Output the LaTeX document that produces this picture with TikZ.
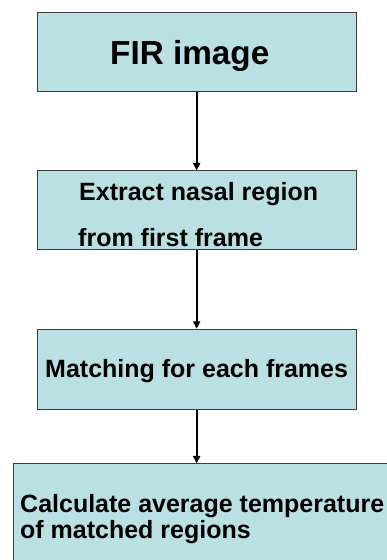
\documentclass[tikz,border=0pt]{standalone}
\usepackage{fontspec}
\setmainfont{Liberation Sans}
\usetikzlibrary{arrows.meta}
\definecolor{boxfill}{RGB}{187,224,227}
\definecolor{boxline}{RGB}{60,60,60}
\tikzset{
  stepbox/.style={draw=boxline, fill=boxfill, line width=1pt, inner sep=0pt, rectangle},
  label24/.style={anchor=base west, inner sep=0pt, font=\bfseries\fontsize{25}{29}\selectfont},
  flow/.style={line width=2.1pt, -{Triangle[width=7pt,length=7.5pt]}}
}
\begin{document}
\begin{tikzpicture}[x=1pt,y=1pt]
  \useasboundingbox (0,0) rectangle (387,560);
  \clip (0,0) rectangle (387,560);

  % boxes (y measured from the bottom of the page)
  \node[stepbox, minimum width=318.7pt, minimum height=79pt] (b1) at (196.65,507.8) {};
  \node[stepbox, minimum width=318.7pt, minimum height=79pt] (b2) at (196.65,349.5) {};
  \node[stepbox, minimum width=318.7pt, minimum height=80pt] (b3) at (196.65,190.7) {};
  \node[stepbox, minimum width=400pt, minimum height=120pt] (b4) at (213.3,36) {};

  % labels
  \node[anchor=base west, inner sep=0pt, font=\bfseries\fontsize{33.3}{37}\selectfont] (t1) at (110,495) {FIR image};
  \node[label24] (t2a) at (79,359.3) {Extract nasal region};
  \node[label24] (t2b) at (78,313.5) {from first frame};
  \node[label24] (t3) at (45,182.7) {Matching for each frames};
  \node[label24] (t4a) at (20,47.5) {Calculate average temperature};
  \node[label24] (t4b) at (20,21.5) {of matched regions};

  % connectors
  \draw[flow] (b1.south) -- (b2.north);
  \draw[flow] (b2.south) -- (b3.north);
  \draw[flow] (b3.south) -- (b3.south |- b4.north);
\end{tikzpicture}
\end{document}
